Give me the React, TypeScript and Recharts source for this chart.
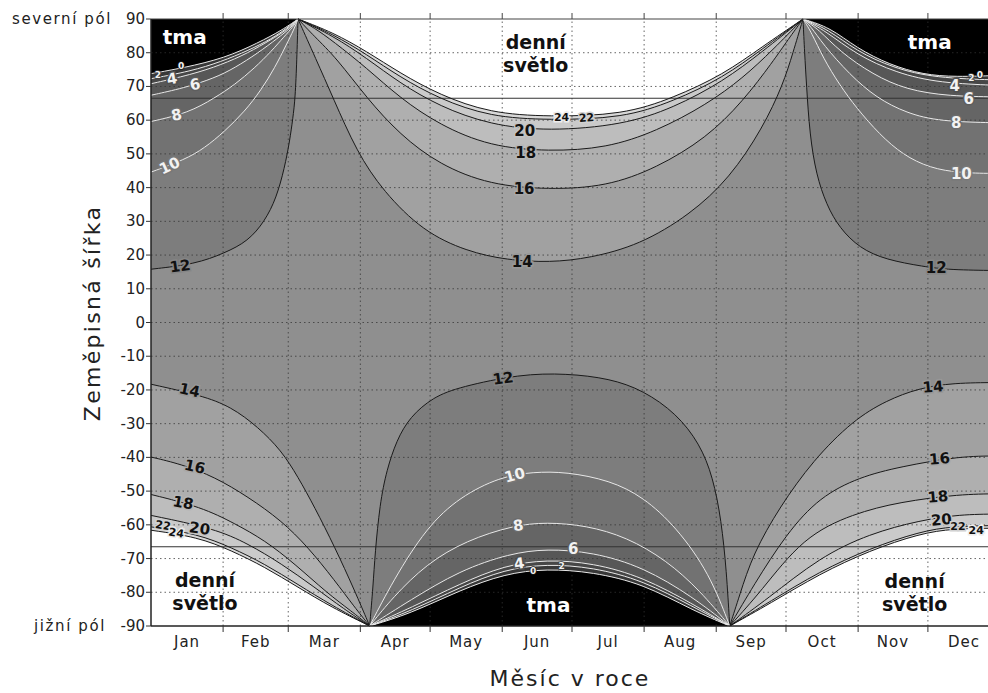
import React from "react";
import {
  ComposedChart,
  Area,
  Line,
  XAxis,
  YAxis,
  ReferenceLine,
  ReferenceDot,
  CartesianGrid,
} from "recharts";

type Pt = [number, number];

const months = ["Jan", "Feb", "Mar", "Apr", "May", "Jun", "Jul", "Aug", "Sep", "Oct", "Nov", "Dec"];
const monthStarts = [0, 31, 59, 90, 120, 151, 181, 212, 243, 273, 304, 334, 365];
const monthMids = [15.5, 45, 74.5, 105, 135.5, 166, 196.5, 227.5, 258, 288.5, 319, 349.5];
const latTicks = [90, 80, 70, 60, 50, 40, 30, 20, 10, 0, -10, -20, -30, -40, -50, -60, -70, -80, -90];
const gridLats = [80, 70, 60, 50, 40, 30, 20, 10, 0, -10, -20, -30, -40, -50, -60, -70, -80];
const polarCircles = [66.5, -66.5];
const poleNames: Record<number, string> = { 90: "severní pól", [-90]: "jižní pól" };

// day-length contours (hours) as [day of year, latitude]
// north, Jan -> early Mar (short days near the pole)
const northWinterA: Record<number, Pt[]> = {
  12: [[0, 15.8], [19, 17.3], [31.7, 20.6], [41.7, 24.1], [48.9, 30], [53.9, 36.9], [57.4, 45.8], [59.6, 53.7], [61, 60.6], [62, 66.5], [62.7, 78], [63.2, 90]],
  10: [[0, 44.6], [14.5, 48.3], [23, 51.7], [31.7, 56.7], [40.3, 62.6], [47.4, 69], [53.2, 75.5], [58.2, 82.4], [61.5, 87], [63.2, 90]],
  8: [[0, 59.6], [15.9, 62.1], [27.4, 66.6], [36, 70.5], [44.6, 75.5], [51.7, 80.4], [57.4, 84.9], [61, 87.6], [63.2, 90]],
  6: [[0, 67.4], [14, 69.5], [27.4, 72.5], [36, 75.5], [46, 79.9], [54.6, 84.4], [60, 87.3], [63.2, 90]],
  4: [[0, 70.8], [17.3, 73.5], [30.2, 76.4], [41.7, 79.9], [51.7, 83.9], [58.5, 86.8], [63.2, 90]],
  2: [[0, 72.3], [17, 74.5], [30, 77.3], [42, 80.7], [52, 84.2], [58.5, 87.3], [63.2, 90]],
  0: [[0, 73.8], [13.9, 75.5], [31.7, 78.4], [46, 82.9], [56.6, 86.8], [63.2, 90]],
};

// north, Oct -> Dec
const northWinterB: Record<number, Pt[]> = {
  12: [[280.3, 90], [281, 80], [281.8, 70.5], [283.2, 55.7], [286, 43.8], [290.4, 34.9], [296, 28], [304.7, 22], [316, 18.6], [332, 16.6], [343, 15.6], [365, 15.4]],
  10: [[280.3, 90], [284, 86], [289, 78.4], [296, 70.5], [303.3, 63.6], [313.3, 55.7], [323.3, 49.7], [334.8, 45.8], [348, 44.3], [365, 44.2]],
  8: [[280.3, 90], [283.5, 88], [289, 82.4], [300.4, 73.5], [311.9, 66.6], [324.8, 62.1], [339, 59.6], [365, 59.2]],
  6: [[280.3, 90], [287, 87], [296, 80.4], [310.4, 73.5], [324.8, 69], [343, 67.1], [365, 66.9]],
  4: [[280.3, 90], [290, 86.5], [303.3, 79.4], [320.4, 74], [339, 71], [365, 70.3]],
  2: [[280.3, 90], [291, 87], [303.3, 80.5], [319, 75.5], [337, 72.5], [365, 71.9]],
  0: [[280.3, 90], [292, 87.5], [303.3, 81.4], [317.6, 76.4], [332, 73.5], [346, 72.8], [365, 73.3]],
};

// north, Mar -> Oct (long days)
const northSummer: Record<number, Pt[]> = {
  14: [[63.2, 90], [70.8, 78.3], [78.3, 66.6], [88.4, 50.7], [99.8, 38.9], [117, 27], [135.7, 21.1], [153, 18.5], [171.5, 17.8], [188.7, 19.1], [210, 23], [231.6, 31.9], [248.8, 42.8], [263, 57.7], [271.7, 70.5], [276, 80], [280.3, 90]],
  16: [[63.2, 90], [70, 85], [79.8, 78.4], [92.7, 66.6], [107, 55.7], [124, 46.8], [145.7, 40.8], [171, 39.4], [195.8, 40.3], [217.3, 45.8], [238.8, 54.7], [254.5, 65.6], [267.4, 77.4], [274, 84], [280.3, 90]],
  18: [[63.2, 90], [70, 87.5], [78.3, 83.4], [92.7, 75.5], [107, 66.6], [124, 58.6], [145.7, 52.2], [171, 50.7], [195.8, 51.7], [217.3, 56.7], [238.8, 64.6], [254.5, 72.5], [267.4, 80.9], [280.3, 90]],
  20: [[63.2, 90], [78.3, 85], [92.7, 78.4], [107, 71], [124, 64.1], [145.7, 58.6], [171, 56.7], [203, 58.6], [224.5, 63.6], [246, 71.5], [263, 80.4], [280.3, 90]],
  22: [[63.2, 90], [78.3, 85.5], [92.7, 79.5], [107, 72.8], [124, 66.3], [145.7, 61], [171, 60], [203, 60.6], [224.5, 65.6], [246, 72.6], [263, 81.2], [280.3, 90]],
  24: [[63.2, 90], [78.3, 86], [92.7, 80.4], [107, 74], [124, 67.5], [145.7, 62.1], [171, 61], [203, 61.6], [224.5, 66.6], [246, 73.5], [263, 81.9], [280.3, 90]],
};

// south, Jan -> Apr (long days)
const southSummerA: Record<number, Pt[]> = {
  14: [[0, -18.3], [21.6, -21.6], [34.5, -25], [46, -31], [56, -37.9], [63.2, -45.8], [70.3, -54.7], [79, -66.6], [87.5, -79.4], [94, -90]],
  16: [[0, -39.9], [13, -42], [27.4, -45.8], [41.7, -51.7], [56, -58.7], [67.5, -66.6], [79, -76.5], [87.5, -84.4], [94, -90]],
  18: [[0, -51], [21.6, -54.7], [36, -59.6], [48.9, -64.6], [61.7, -71.5], [76, -80.4], [86, -85.5], [94, -90]],
  20: [[0, -57.2], [27.4, -61.1], [41.7, -65.6], [56, -71.5], [70.3, -78.5], [83, -85], [94, -90]],
  22: [[0, -60.6], [20, -62.7], [34.5, -66.7], [48.9, -71.6], [63.2, -77.7], [77.5, -83.8], [94, -90]],
  24: [[0, -61.6], [20, -63.6], [34.5, -67.6], [48.9, -72.5], [63.2, -78.5], [77.5, -84.4], [94, -90]],
};

// south, Apr -> Sep (short days)
const southWinter: Record<number, Pt[]> = {
  12: [[94, -90], [95.5, -78], [96.3, -68.6], [98.4, -53.7], [101.3, -43.8], [105.6, -34.9], [111.3, -28], [121.3, -22.1], [132.8, -19.1], [158.6, -15.3], [178.6, -15.1], [197.2, -16.6], [211.6, -20.1], [225.9, -27], [235.9, -35.9], [241.6, -45.8], [245.2, -58.7], [247.4, -73.5], [248.8, -90]],
  10: [[94, -90], [104.1, -76.5], [118.5, -60.7], [132.8, -51.7], [150, -45.8], [164.3, -44.3], [178.6, -44.3], [197.2, -46.8], [211.6, -51.7], [225.9, -60.7], [240.2, -74.5], [248.8, -90]],
  8: [[94, -90], [104.1, -81.4], [118.5, -71.5], [135.7, -64.6], [155.7, -60.2], [170, -59.2], [187.2, -60.2], [204.4, -63.6], [221.6, -70.5], [235.9, -79.4], [248.8, -90]],
  6: [[94, -90], [111.3, -82.4], [132.8, -73.5], [154.3, -68.5], [170, -67.1], [190, -68.1], [211.6, -72.5], [233, -81.4], [248.8, -90]],
  4: [[94, -90], [112, -84.5], [132.8, -77.5], [152, -72], [170, -70.3], [190, -71.3], [211.6, -75.5], [233, -83.5], [248.8, -90]],
  2: [[94, -90], [112, -85.5], [132.8, -78.5], [152, -73.2], [170, -71.6], [190, -72.6], [211.6, -76.5], [233, -84.3], [248.8, -90]],
  0: [[94, -90], [111.3, -86.4], [132.8, -79.4], [152, -74.5], [170, -73], [190, -74], [211.6, -77.5], [233, -85.4], [248.8, -90]],
};

// south, Sep -> Dec
const southSummerB: Record<number, Pt[]> = {
  14: [[248.8, -90], [253, -81], [258.8, -68.6], [270.3, -54.7], [284.6, -40.9], [301.8, -29], [316.2, -23.1], [330, -19.5], [344.8, -17.9], [365, -17.8]],
  16: [[248.8, -90], [259, -78], [273.2, -62.6], [287.5, -51.7], [304.7, -45.8], [321.9, -42.8], [347.7, -39.6], [365, -39.6]],
  18: [[248.8, -90], [262, -80], [280.3, -63.6], [301.8, -56.7], [321.9, -53.2], [347.7, -50.9], [365, -50.8]],
  20: [[248.8, -90], [265, -82], [287.5, -69.6], [309, -62.6], [330.5, -58.7], [347.7, -56.9], [365, -56.8]],
  22: [[248.8, -90], [266, -82.8], [287.5, -73.8], [309, -67], [330.5, -62], [344.8, -60.4], [365, -60.2]],
  24: [[248.8, -90], [266, -83.4], [287.5, -74.5], [309, -67.6], [330.5, -62.6], [344.8, -61.1], [365, -61]],
};

// contour numbers: [text, day, latitude, tilt]
const lineLabels: [string, number, number, number][] = [
  ["12", 12.5, 16.7, -8], ["10", 8, 46.5, -25], ["8", 11, 61.5, -12], ["6", 19, 70.6, -12],
  ["4", 9, 72.2, -10], ["2", 3, 73.3, 0], ["0", 13, 76, 0],
  ["12", 337.6, 16.1, 0], ["10", 348.4, 44.1, 0], ["8", 346.2, 59.3, 0], ["6", 351.5, 66.4, 0],
  ["4", 345.5, 70, 0], ["2", 352.7, 72.6, 0], ["0", 356.3, 73.4, 0],
  ["24", 176.5, 60.8, 0], ["22", 187.2, 60.8, -5], ["20", 160.7, 56.9, 0], ["18", 161.1, 50.4, 0],
  ["16", 160.4, 39.5, 0], ["14", 159.6, 18, 0],
  ["14", 16.6, -20.1, 12], ["16", 18.8, -42.8, 12], ["18", 13.8, -53.5, 10], ["20", 20.9, -61.1, 8],
  ["22", 5.2, -60.1, 10], ["24", 10.9, -62.3, 10],
  ["12", 151.4, -16.6, -8], ["10", 156.4, -45.3, -15], ["8", 157.9, -60.2, -8], ["6", 181.5, -67.1, 0],
  ["4", 158.3, -71.5, -8], ["0", 164.3, -73.6, 0], ["2", 176.5, -72.2, 0],
  ["14", 336.2, -19.1, -5], ["16", 339, -40.4, -5], ["18", 338.3, -51.7, -5], ["20", 339.8, -58.5, -5],
  ["22", 346.9, -60.2, 0], ["24", 354.8, -61.6, 0],
];

const darkNotes: [number, number][] = [[14.5, 84.8], [334.8, 83.3], [170.9, -83.9]];
const lightNotes: [number, number][] = [[165.4, 79.5], [23.2, -79.9], [328.3, -80.3]];

const font = "DejaVu Sans";
const baseFill = "#8f8f8f";
const fills: Record<number, string> = {
  0: "#000000", 2: "#383838", 4: "#474747", 6: "#575757", 8: "#656565", 10: "#727272", 12: "#7d7d7d",
  14: "#a1a1a1", 16: "#afafaf", 18: "#bdbdbd", 20: "#cacaca", 22: "#d8d8d8", 24: "#ffffff",
};

const groups = [
  { id: "nwa", pole: 90, contours: northWinterA, order: [12, 10, 8, 6, 4, 2, 0] },
  { id: "nwb", pole: 90, contours: northWinterB, order: [12, 10, 8, 6, 4, 2, 0] },
  { id: "ns", pole: 90, contours: northSummer, order: [14, 16, 18, 20, 22, 24] },
  { id: "ssa", pole: -90, contours: southSummerA, order: [14, 16, 18, 20, 22, 24] },
  { id: "ssb", pole: -90, contours: southSummerB, order: [14, 16, 18, 20, 22, 24] },
  { id: "sw", pole: -90, contours: southWinter, order: [12, 10, 8, 6, 4, 2, 0] },
];

const segments = groups.flatMap((g) =>
  g.order.map((level) => ({ key: `${g.id}${level}`, level, pole: g.pole, pts: g.contours[level] }))
);

const days = Array.from(new Set(segments.flatMap((s) => s.pts.map((p) => p[0])))).sort((a, b) => a - b);
const table = days.map((d) => {
  const row: Record<string, number> = { day: d };
  segments.forEach((s) => {
    const p = s.pts.find((q) => q[0] === d);
    if (p) row[s.key] = p[1];
  });
  return row;
});

const mix = (a: string, b: string) => {
  const va = parseInt(a.slice(1, 3), 16);
  const vb = parseInt(b.slice(1, 3), 16);
  const h = Math.round((va + vb) / 2).toString(16).padStart(2, "0");
  return `#${h}${h}${h}`;
};

const haloFor = (level: number) => {
  if (level <= 12) return mix(fills[level], level === 12 ? baseFill : fills[level + 2]);
  return mix(fills[level], level === 14 ? baseFill : fills[level - 2]);
};

const LatTick = (p: any) => {
  const v = p.payload.value as number;
  const pole = poleNames[v];
  return (
    <g>
      <text x={p.x} y={p.y} dy={5} textAnchor="end" fontSize={15} fill="#222" fontFamily={font}>
        {v}
      </text>
      {pole && (
        <text
          x={p.x - (v > 0 ? 33 : 39)}
          y={p.y}
          dy={5}
          textAnchor="end"
          fontSize={15}
          fill="#222"
          fontFamily={font}
          letterSpacing={1.6}
        >
          {pole}
        </text>
      )}
    </g>
  );
};

const MonthTick = (p: any) => (
  <text x={p.x} y={p.y} dy={12} textAnchor="middle" fontSize={15} fill="#222" fontFamily={font} letterSpacing={1}>
    {months[monthMids.indexOf(p.payload.value)]}
  </text>
);

const NoTick = () => <g />;

export default function App() {
  return (
    <div style={{ position: "absolute", left: 0, top: 0, width: 988, height: 693, overflow: "hidden", background: "#fff" }}>
      <ComposedChart width={1006} height={693} data={table} margin={{ top: 13, right: 6, bottom: 0, left: 0 }}>
        <CartesianGrid horizontal={false} vertical={false} fill={baseFill} fillOpacity={1} />
        <XAxis
          dataKey="day"
          type="number"
          domain={[0, 365]}
          ticks={monthStarts.slice(1, 12)}
          interval={0}
          height={6}
          tickSize={6}
          tick={NoTick}
          axisLine={{ stroke: "#222", strokeWidth: 1.5 }}
          tickLine={{ stroke: "#333" }}
        />
        <XAxis
          xAxisId="labels"
          dataKey="day"
          type="number"
          domain={[0, 365]}
          ticks={monthMids}
          interval={0}
          height={61}
          tickSize={0}
          tickMargin={3}
          tick={MonthTick}
          axisLine={false}
          tickLine={false}
          label={{
            content: () => (
              <text x={570} y={678} dy={8} textAnchor="middle" fontSize={22} fill="#222" fontFamily={font} letterSpacing={2}>
                Měsíc v roce
              </text>
            ),
          }}
        />
        <XAxis
          xAxisId="top"
          orientation="top"
          dataKey="day"
          type="number"
          domain={[0, 365]}
          ticks={monthStarts.slice(1, 12)}
          interval={0}
          height={6}
          tickSize={6}
          tick={NoTick}
          axisLine={{ stroke: "#444", strokeWidth: 1.2 }}
          tickLine={{ stroke: "#444" }}
        />
        <YAxis
          type="number"
          domain={[-90, 90]}
          ticks={latTicks}
          interval={0}
          width={151}
          tickSize={5}
          tickMargin={1}
          tick={LatTick}
          axisLine={{ stroke: "#222", strokeWidth: 1.5 }}
          tickLine={{ stroke: "#333" }}
          label={{
            content: () => (
              <text
                x={92}
                y={313}
                dy={8}
                textAnchor="middle"
                fontSize={22}
                fill="#222"
                fontFamily={font}
                letterSpacing={2.3}
                transform="rotate(-90, 92, 313)"
              >
                Zeměpisná šířka
              </text>
            ),
          }}
        />

        {segments.map((s) => (
          <Area
            key={`a-${s.key}`}
            dataKey={s.key}
            type="basis"
            baseValue={s.pole}
            fill={fills[s.level]}
            fillOpacity={1}
            stroke="none"
            connectNulls
            dot={false}
            activeDot={false}
            isAnimationActive={false}
          />
        ))}

        {gridLats.map((lat) => (
          <ReferenceLine key={`gy${lat}`} y={lat} stroke="#333" strokeOpacity={0.75} strokeDasharray="1.5 3" />
        ))}
        {monthStarts.slice(1, 12).map((d) => (
          <ReferenceLine key={`gx${d}`} x={d} stroke="#333" strokeOpacity={0.75} strokeDasharray="1.5 3" />
        ))}
        {polarCircles.map((lat) => (
          <ReferenceLine key={`pc${lat}`} y={lat} stroke="#333" strokeWidth={1.2} />
        ))}

        {segments.map((s) => (
          <Line
            key={`l-${s.key}`}
            dataKey={s.key}
            type="basis"
            stroke={s.level <= 10 ? "#e8e8e8" : "#1a1a1a"}
            strokeWidth={1}
            connectNulls
            dot={false}
            activeDot={false}
            isAnimationActive={false}
          />
        ))}

        {lineLabels.map(([t, d, lat, tilt], i) => {
          const level = Number(t);
          const small = level === 0 || level === 2;
          const tiny = level === 22 || level === 24;
          return (
            <ReferenceDot
              key={`lb${i}`}
              x={d}
              y={lat}
              r={2}
              ifOverflow="visible"
              shape={(p: any) => (
                <text
                  x={p.cx}
                  y={p.cy}
                  dy={small ? 3 : tiny ? 4 : 5}
                  textAnchor="middle"
                  fontSize={small ? 9 : tiny ? 11 : 15}
                  fontWeight="bold"
                  fontFamily={font}
                  fill={level <= 10 ? "#f2f2f2" : "#111"}
                  stroke={haloFor(level)}
                  strokeWidth={small ? 1.5 : 3}
                  paintOrder="stroke"
                  transform={`rotate(${tilt}, ${p.cx}, ${p.cy})`}
                >
                  {t}
                </text>
              )}
            />
          );
        })}

        {darkNotes.map(([d, lat], i) => (
          <ReferenceDot
            key={`tma${i}`}
            x={d}
            y={lat}
            r={2}
            ifOverflow="visible"
            shape={(p: any) => (
              <text x={p.cx} y={p.cy} dy={7} textAnchor="middle" fontSize={20} fontWeight="bold" fontFamily={font} fill="#fff">
                tma
              </text>
            )}
          />
        ))}
        {lightNotes.map(([d, lat], i) => (
          <ReferenceDot
            key={`den${i}`}
            x={d}
            y={lat}
            r={2}
            ifOverflow="visible"
            shape={(p: any) => (
              <g>
                <text x={p.cx} y={p.cy} dy={-5} textAnchor="middle" fontSize={19} fontWeight="bold" fontFamily={font} fill="#111">
                  denní
                </text>
                <text x={p.cx} y={p.cy} dy={18} textAnchor="middle" fontSize={19} fontWeight="bold" fontFamily={font} fill="#111">
                  světlo
                </text>
              </g>
            )}
          />
        ))}
      </ComposedChart>
    </div>
  );
}
